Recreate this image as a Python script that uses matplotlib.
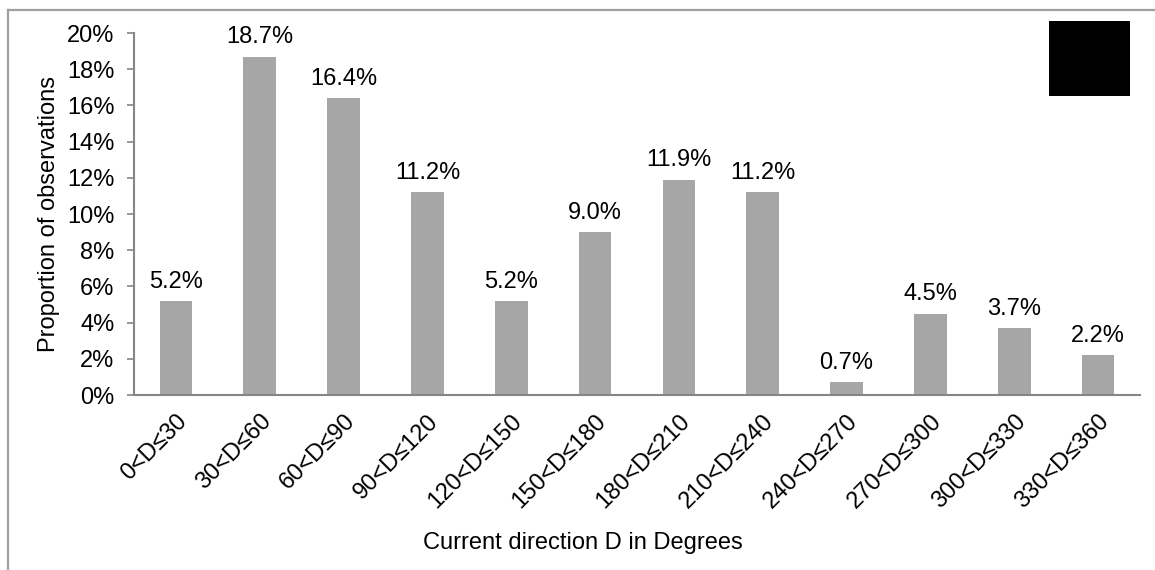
import matplotlib
matplotlib.use("Agg")
import matplotlib.pyplot as plt
from matplotlib.lines import Line2D
from matplotlib.patches import Rectangle
from matplotlib.ticker import PercentFormatter

categories = ["0<D≤30", "30<D≤60", "60<D≤90", "90<D≤120", "120<D≤150", "150<D≤180",
              "180<D≤210", "210<D≤240", "240<D≤270", "270<D≤300", "300<D≤330", "330<D≤360"]
proportions = [5.2, 18.7, 16.4, 11.2, 5.2, 9.0, 11.9, 11.2, 0.7, 4.5, 3.7, 2.2]
y_ticks = [0, 2, 4, 6, 8, 10, 12, 14, 16, 18, 20]

plt.rcParams["font.family"] = ["Liberation Sans", "DejaVu Sans"]
FS = 17

fig = plt.figure(figsize=(11.55, 5.70), dpi=100)
ax = fig.add_axes([0.116, 0.307, 0.871, 0.635])

x = range(len(categories))
ax.bar(x, proportions, width=0.39, color="#a6a6a6", zorder=2)
for xi, v in zip(x, proportions):
    ax.annotate(f"{v:.1f}%", (xi, v), xytext=(0, 6), textcoords="offset points",
                ha="center", va="bottom", fontsize=FS, color="black")

ax.set_xlim(-0.5, len(categories) - 0.5)
ax.set_ylim(0, 20)
ax.set_yticks(y_ticks)
ax.yaxis.set_major_formatter(PercentFormatter(decimals=0))
ax.set_xticks(list(x))
ax.set_xticklabels(categories, rotation=45, ha="right", rotation_mode="anchor")
ax.tick_params(axis="x", length=0, pad=11, labelsize=FS)
ax.tick_params(axis="y", length=5, width=1.2, color="#868686", pad=9, labelsize=FS)

for side in ("top", "right"):
    ax.spines[side].set_visible(False)
for side in ("left", "bottom"):
    ax.spines[side].set_color("#868686")
    ax.spines[side].set_linewidth(1.5)

ax.set_ylabel("Proportion of observations", fontsize=FS, labelpad=5)
fig.text(0.505, 0.048, "Current direction D in Degrees", ha="center", va="center", fontsize=FS)

# outer chart frame
fig.add_artist(Line2D([0.0069, 1.0], [0.9825, 0.9825], transform=fig.transFigure,
                      color="#a0a0a0", lw=1.6))
fig.add_artist(Line2D([0.0069, 0.0069], [0.0, 0.9825], transform=fig.transFigure,
                      color="#a0a0a0", lw=1.6))
# legend placeholder block
fig.add_artist(Rectangle((0.908, 0.8316), 0.070, 0.1316, transform=fig.transFigure,
                         facecolor="black", edgecolor="none"))

fig.savefig("out.png", dpi=100)
